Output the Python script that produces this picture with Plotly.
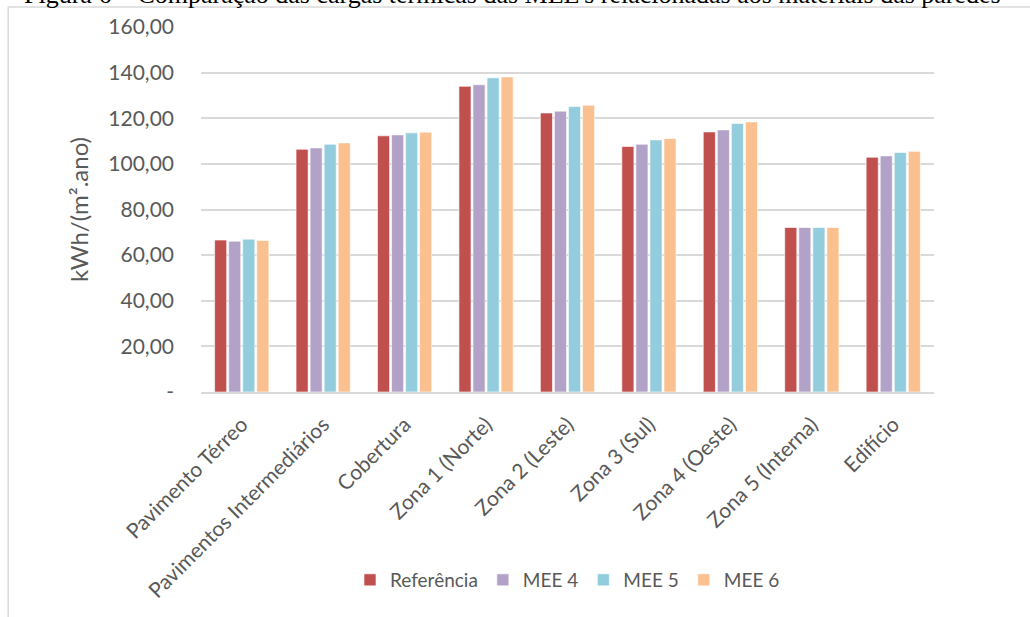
import plotly.graph_objects as go

categorias = [
    "Pavimento Térreo",
    "Pavimentos Intermediários",
    "Cobertura",
    "Zona 1 (Norte)",
    "Zona 2 (Leste)",
    "Zona 3 (Sul)",
    "Zona 4 (Oeste)",
    "Zona 5 (Interna)",
    "Edifício",
]

referencia = [66.6, 106.4, 112.3, 134.0, 122.3, 107.6, 114.0, 72.1, 102.9]
mee4 = [66.1, 107.0, 112.7, 134.7, 123.1, 108.6, 114.9, 72.1, 103.5]
mee5 = [67.0, 108.6, 113.6, 137.7, 125.1, 110.5, 117.7, 72.1, 105.0]
mee6 = [66.4, 109.2, 113.9, 138.1, 125.7, 111.1, 118.4, 72.1, 105.5]

series_nomes = ["Referência", "MEE 4", "MEE 5", "MEE 6"]
series_valores = [referencia, mee4, mee5, mee6]
cores = ["#C0504D", "#B3A2C7", "#93CDDD", "#FAC090"]

y_ticks = [0, 20, 40, 60, 80, 100, 120, 140, 160]
y_ticktext = ["-", "20,00", "40,00", "60,00", "80,00", "100,00", "120,00", "140,00", "160,00"]

fonte = "Lato, Carlito, Calibri, sans-serif"
cinza_texto = "#595959"

fig = go.Figure()
for nome, valores, cor in zip(series_nomes, series_valores, cores):
    fig.add_trace(go.Bar(
        x=categorias,
        y=valores,
        name=nome,
        marker=dict(color=cor, line=dict(color="rgba(255,255,255,0.6)", width=1)),
    ))

fig.update_layout(
    width=1030,
    height=617,
    barmode="group",
    bargap=0.31,
    bargroupgap=0.14,
    paper_bgcolor="white",
    plot_bgcolor="white",
    margin=dict(l=201, r=96, t=27, b=225),
    font=dict(family=fonte, color=cinza_texto),
    legend=dict(
        orientation="h",
        x=0.5, xanchor="center",
        y=-0.515, yanchor="middle",
        font=dict(size=19, color=cinza_texto, family=fonte),
        itemwidth=30,
        traceorder="normal",
    ),
    xaxis=dict(
        tickangle=-45,
        tickfont=dict(size=21, color=cinza_texto, family=fonte),
        showline=True,
        linecolor="#D9D9D9",
        linewidth=2,
        showgrid=False,
        ticks="",
        ticklabelstandoff=10,
    ),
    yaxis=dict(
        range=[0, 160],
        tickvals=y_ticks,
        ticktext=y_ticktext,
        tickfont=dict(size=21, color=cinza_texto, family=fonte),
        showgrid=True,
        gridcolor="#D9D9D9",
        gridwidth=2,
        zeroline=False,
        ticks="",
        ticklabelstandoff=26,
        title=dict(text="kWh/(m².ano)", font=dict(size=24, color=cinza_texto, family=fonte), standoff=12),
    ),
)

# Caption of the figure, partly above the page edge
fig.add_annotation(
    text="Figura 6 – Comparação das cargas térmicas das MEE's relacionadas aos materiais das paredes",
    xref="paper", yref="paper",
    x=0.5, y=1.0, xshift=-55, yshift=16,
    xanchor="center", yanchor="bottom",
    showarrow=False,
    font=dict(family="Liberation Serif, Times New Roman, serif", size=26, color="black"),
)

# Chart frame
fig.add_shape(
    type="rect", xref="paper", yref="paper",
    x0=-0.263, x1=1.2, y0=-0.7, y1=1.055,
    line=dict(color="#D9D9D9", width=1.5),
    fillcolor="rgba(0,0,0,0)",
    layer="below",
)

fig.write_html("out.html")
